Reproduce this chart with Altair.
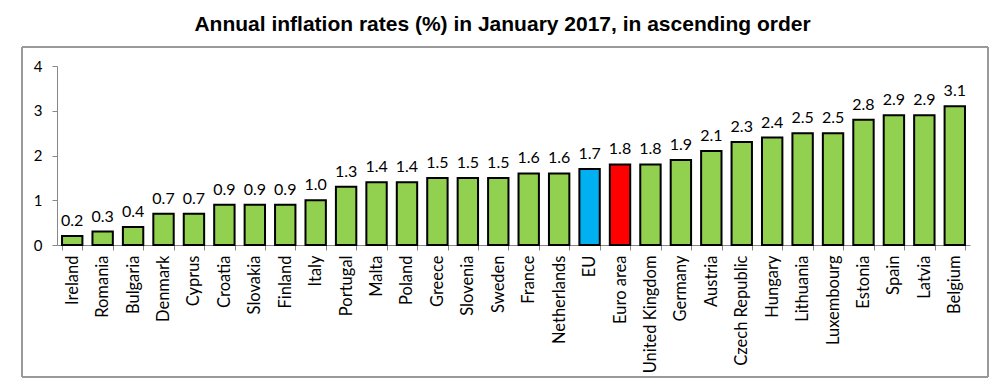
import altair as alt
import pandas as pd

countries = ["Ireland", "Romania", "Bulgaria", "Denmark", "Cyprus", "Croatia", "Slovakia",
             "Finland", "Italy", "Portugal", "Malta", "Poland", "Greece", "Slovenia", "Sweden",
             "France", "Netherlands", "EU", "Euro area", "United Kingdom", "Germany", "Austria",
             "Czech Republic", "Hungary", "Lithuania", "Luxembourg", "Estonia", "Spain",
             "Latvia", "Belgium"]
values = [0.2, 0.3, 0.4, 0.7, 0.7, 0.9, 0.9, 0.9, 1.0, 1.3, 1.4, 1.4, 1.5, 1.5, 1.5,
          1.6, 1.6, 1.7, 1.8, 1.8, 1.9, 2.1, 2.3, 2.4, 2.5, 2.5, 2.8, 2.9, 2.9, 3.1]
groups = ["EU" if c == "EU" else ("Euro area" if c == "Euro area" else "Country") for c in countries]

df = pd.DataFrame({"country": countries, "value": values, "group": groups})

FONT = "Lato"

x = alt.X("country:N", sort=countries, title=None,
          scale=alt.Scale(paddingInner=0.33, paddingOuter=0.165),
          axis=alt.Axis(labelAngle=-90, labelAlign="right", labelBaseline="middle",
                        labelFontSize=16.5, labelFont=FONT, labelColor="#000",
                        tickBand="extent", tickSize=5, tickColor="#888", domainColor="#888",
                        labelPadding=5))
y = alt.Y("value:Q", title=None,
          scale=alt.Scale(domain=[0, 4]),
          axis=alt.Axis(values=[0, 1, 2, 3, 4], grid=False, tickSize=5, tickColor="#888",
                        domainColor="#888", labelFontSize=15, labelFont=FONT,
                        labelColor="#000", labelPadding=10))

bars = alt.Chart(df).mark_bar(stroke="black", strokeWidth=2).encode(
    x=x, y=y,
    color=alt.Color("group:N",
                    scale=alt.Scale(domain=["Country", "EU", "Euro area"],
                                    range=["#92D050", "#00B0F0", "#FF0000"]),
                    legend=None),
)

labels = alt.Chart(df).mark_text(baseline="alphabetic", dy=-10, fontSize=16, font=FONT,
                                 color="#000").encode(
    x=alt.X("country:N", sort=countries),
    y="value:Q",
    text=alt.Text("value:Q", format=".1f"),
)

frame = alt.Chart(df).mark_rect(fill=None, stroke="#999", strokeWidth=1).encode(
    x=alt.value(-35), x2=alt.value(931), y=alt.value(-19), y2=alt.value(311)
)

chart = alt.layer(frame, bars, labels).properties(
    width=913, height=179,
    title=alt.TitleParams("Annual inflation rates (%) in January 2017, in ascending order",
                          fontSize=21, font="Liberation Sans", fontWeight="bold",
                          color="#000", anchor="middle", offset=12, dx=-11),
    autosize=alt.AutoSizeParams(type="none"),
    padding={"left": 49, "top": 58, "right": 20, "bottom": 135},
).configure_view(stroke=None)

chart.save("out.html", embed_options={"renderer": "svg", "actions": False})
